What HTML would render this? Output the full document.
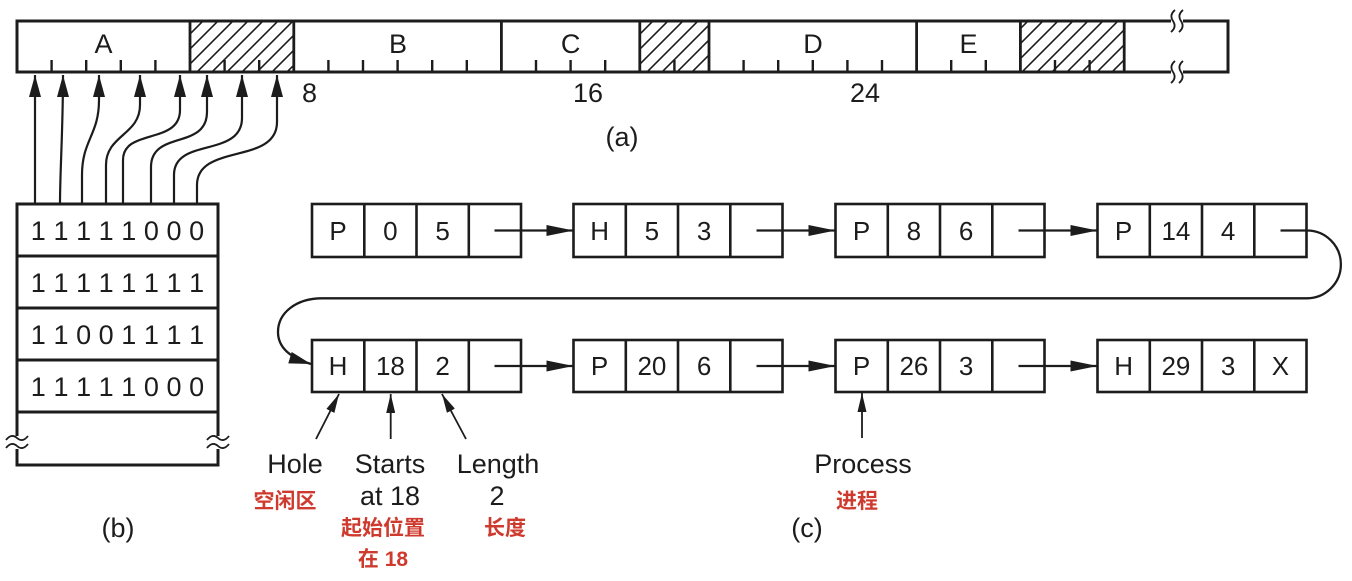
<!DOCTYPE html>
<html>
<head>
<meta charset="utf-8">
<style>
html,body{margin:0;padding:0;background:#fff;}
svg{display:block;}
text{font-family:"Liberation Sans","Noto Sans CJK SC",sans-serif;fill:#1c1c1c;}
.cn{font-family:"Liberation Sans","Noto Sans CJK SC",sans-serif;fill:#cf3a2e;font-weight:bold;font-size:21px;}
</style>
</head>
<body>
<svg width="1352" height="581" viewBox="0 0 1352 581" xmlns="http://www.w3.org/2000/svg">
<defs>
  <pattern id="hatch" patternUnits="userSpaceOnUse" width="15" height="15" x="14" y="0">
    <path d="M0,15 L15,0 M-3,3 L3,-3 M12,18 L18,12" stroke="#1c1c1c" stroke-width="1.6"/>
  </pattern>
  <marker id="ahB" markerWidth="22" markerHeight="12" refX="22" refY="6" orient="auto" markerUnits="userSpaceOnUse">
    <path d="M0,0 L22,6 L0,12 z" fill="#1c1c1c"/>
  </marker>
  <marker id="ahC" markerWidth="27" markerHeight="11" refX="27" refY="5.5" orient="auto" markerUnits="userSpaceOnUse">
    <path d="M0,0 L27,5.5 L0,11 z" fill="#1c1c1c"/>
  </marker>
  <marker id="ahS" markerWidth="19" markerHeight="9" refX="19" refY="4.5" orient="auto" markerUnits="userSpaceOnUse">
    <path d="M0,0 L19,4.5 L0,9 z" fill="#1c1c1c"/>
  </marker>
</defs>

<!-- ============ (a) memory bar ============ -->
<g stroke="#1c1c1c" fill="none">
  <rect x="190" y="21" width="103.8" height="51" fill="url(#hatch)" stroke="none"/>
  <rect x="639.8" y="21" width="69.2" height="51" fill="url(#hatch)" stroke="none"/>
  <rect x="1020.4" y="21" width="103.8" height="51" fill="url(#hatch)" stroke="none"/>
  <rect x="17" y="21" width="1211" height="51" stroke-width="3"/>
  <g stroke-width="2.8">
    <line x1="190" y1="21" x2="190" y2="72"/>
    <line x1="293.8" y1="21" x2="293.8" y2="72"/>
    <line x1="501.4" y1="21" x2="501.4" y2="72"/>
    <line x1="639.8" y1="21" x2="639.8" y2="72"/>
    <line x1="709" y1="21" x2="709" y2="72"/>
    <line x1="916.6" y1="21" x2="916.6" y2="72"/>
    <line x1="1020.4" y1="21" x2="1020.4" y2="72"/>
    <line x1="1124.2" y1="21" x2="1124.2" y2="72"/>
  </g>
  <g stroke-width="2.4">
    <line x1="51.6" y1="60" x2="51.6" y2="72"/>
    <line x1="86.2" y1="60" x2="86.2" y2="72"/>
    <line x1="120.8" y1="60" x2="120.8" y2="72"/>
    <line x1="155.4" y1="60" x2="155.4" y2="72"/>
    <line x1="224.6" y1="60" x2="224.6" y2="72"/>
    <line x1="259.2" y1="60" x2="259.2" y2="72"/>
    <line x1="328.4" y1="60" x2="328.4" y2="72"/>
    <line x1="363" y1="60" x2="363" y2="72"/>
    <line x1="397.6" y1="60" x2="397.6" y2="72"/>
    <line x1="432.2" y1="60" x2="432.2" y2="72"/>
    <line x1="466.8" y1="60" x2="466.8" y2="72"/>
    <line x1="536" y1="60" x2="536" y2="72"/>
    <line x1="570.6" y1="60" x2="570.6" y2="72"/>
    <line x1="605.2" y1="60" x2="605.2" y2="72"/>
    <line x1="674.4" y1="60" x2="674.4" y2="72"/>
    <line x1="743.6" y1="60" x2="743.6" y2="72"/>
    <line x1="778.2" y1="60" x2="778.2" y2="72"/>
    <line x1="812.8" y1="60" x2="812.8" y2="72"/>
    <line x1="847.4" y1="60" x2="847.4" y2="72"/>
    <line x1="882" y1="60" x2="882" y2="72"/>
    <line x1="951.2" y1="60" x2="951.2" y2="72"/>
    <line x1="985.8" y1="60" x2="985.8" y2="72"/>
    <line x1="1055" y1="60" x2="1055" y2="72"/>
    <line x1="1089.6" y1="60" x2="1089.6" y2="72"/>
  </g>
  <!-- break squiggles -->
  <rect x="1171" y="18" width="12" height="6" fill="#fff" stroke="none"/>
  <rect x="1171" y="69" width="12" height="6" fill="#fff" stroke="none"/>
  <g stroke-width="1.8">
    <path d="M1175,10 q-6,5 -2,11 t-2,11"/>
    <path d="M1183,10 q-6,5 -2,11 t-2,11"/>
    <path d="M1175,61 q-6,5 -2,11 t-2,11"/>
    <path d="M1183,61 q-6,5 -2,11 t-2,11"/>
  </g>
</g>
<g font-size="27" text-anchor="middle">
  <text x="103.5" y="53">A</text>
  <text x="398" y="53">B</text>
  <text x="570.6" y="53">C</text>
  <text x="813" y="53">D</text>
  <text x="968.5" y="53">E</text>
</g>
<g font-size="27">
  <text x="302" y="102">8</text>
  <text x="573" y="102">16</text>
  <text x="850" y="102">24</text>
  <text x="622" y="146" text-anchor="middle">(a)</text>
</g>

<!-- ============ bitmap arrows ============ -->
<g stroke="#1c1c1c" stroke-width="2.2" fill="none" marker-end="url(#ahB)">
  <path d="M35,204 L35,75"/>
  <path d="M60,204 C60,170 63,130 63,75"/>
  <path d="M82,204 L82,175 C82,140 99,135 99,100 L99,75"/>
  <path d="M106,204 L106,165 C106,135 140,135 140,105 L140,75"/>
  <path d="M123,204 L123,160 C123,128 180,145 180,110 L180,75"/>
  <path d="M151,204 L151,167 C151,130 207,150 207,112 L207,75"/>
  <path d="M174,204 L174,175 C174,137 242,158 242,118 L242,75"/>
  <path d="M197,204 L197,185 C197,143 277,165 277,122 L277,75"/>
</g>

<!-- ============ (b) bitmap ============ -->
<g stroke="#1c1c1c" fill="none" stroke-width="3">
  <rect x="17" y="204" width="201" height="261" fill="#fff"/>
  <line x1="17" y1="256" x2="218" y2="256"/>
  <line x1="17" y1="308" x2="218" y2="308"/>
  <line x1="17" y1="360" x2="218" y2="360"/>
  <line x1="17" y1="412" x2="218" y2="412"/>
  <rect x="13" y="436" width="8" height="13" fill="#fff" stroke="none"/>
  <rect x="214" y="436" width="8" height="13" fill="#fff" stroke="none"/>
  <g stroke-width="1.8">
    <path d="M6,440 q5.5,-7 11,-2 t11,-2"/>
    <path d="M6,448 q5.5,-7 11,-2 t11,-2"/>
    <path d="M207,440 q5.5,-7 11,-2 t11,-2"/>
    <path d="M207,448 q5.5,-7 11,-2 t11,-2"/>
  </g>
</g>
<g font-size="27" text-anchor="middle">
  <text y="240"><tspan x="38.3">1</tspan><tspan x="61">1</tspan><tspan x="83.6">1</tspan><tspan x="106.2">1</tspan><tspan x="128.8">1</tspan><tspan x="151.4">0</tspan><tspan x="174">0</tspan><tspan x="196.6">0</tspan></text>
  <text y="292"><tspan x="38.3">1</tspan><tspan x="61">1</tspan><tspan x="83.6">1</tspan><tspan x="106.2">1</tspan><tspan x="128.8">1</tspan><tspan x="151.4">1</tspan><tspan x="174">1</tspan><tspan x="196.6">1</tspan></text>
  <text y="344"><tspan x="38.3">1</tspan><tspan x="61">1</tspan><tspan x="83.6">0</tspan><tspan x="106.2">0</tspan><tspan x="128.8">1</tspan><tspan x="151.4">1</tspan><tspan x="174">1</tspan><tspan x="196.6">1</tspan></text>
  <text y="396"><tspan x="38.3">1</tspan><tspan x="61">1</tspan><tspan x="83.6">1</tspan><tspan x="106.2">1</tspan><tspan x="128.8">1</tspan><tspan x="151.4">0</tspan><tspan x="174">0</tspan><tspan x="196.6">0</tspan></text>
  <text x="118" y="537">(b)</text>
</g>

<!-- ============ (c) linked list ============ -->
<g stroke="#1c1c1c" fill="none" stroke-width="2.6">
  <!-- row 1 -->
  <rect x="312" y="204" width="209" height="53"/>
  <line x1="364.3" y1="204" x2="364.3" y2="257"/><line x1="416.5" y1="204" x2="416.5" y2="257"/><line x1="468.8" y1="204" x2="468.8" y2="257"/>
  <rect x="573.5" y="204" width="209" height="53"/>
  <line x1="625.8" y1="204" x2="625.8" y2="257"/><line x1="678" y1="204" x2="678" y2="257"/><line x1="730.3" y1="204" x2="730.3" y2="257"/>
  <rect x="835.5" y="204" width="209" height="53"/>
  <line x1="887.8" y1="204" x2="887.8" y2="257"/><line x1="940" y1="204" x2="940" y2="257"/><line x1="992.3" y1="204" x2="992.3" y2="257"/>
  <rect x="1097.5" y="204" width="209" height="53"/>
  <line x1="1149.8" y1="204" x2="1149.8" y2="257"/><line x1="1202" y1="204" x2="1202" y2="257"/><line x1="1254.3" y1="204" x2="1254.3" y2="257"/>
  <!-- row 2 -->
  <rect x="312" y="340" width="209" height="52"/>
  <line x1="364.3" y1="340" x2="364.3" y2="392"/><line x1="416.5" y1="340" x2="416.5" y2="392"/><line x1="468.8" y1="340" x2="468.8" y2="392"/>
  <rect x="573.5" y="340" width="209" height="52"/>
  <line x1="625.8" y1="340" x2="625.8" y2="392"/><line x1="678" y1="340" x2="678" y2="392"/><line x1="730.3" y1="340" x2="730.3" y2="392"/>
  <rect x="835.5" y="340" width="209" height="52"/>
  <line x1="887.8" y1="340" x2="887.8" y2="392"/><line x1="940" y1="340" x2="940" y2="392"/><line x1="992.3" y1="340" x2="992.3" y2="392"/>
  <rect x="1097.5" y="340" width="209" height="52"/>
  <line x1="1149.8" y1="340" x2="1149.8" y2="392"/><line x1="1202" y1="340" x2="1202" y2="392"/><line x1="1254.3" y1="340" x2="1254.3" y2="392"/>
</g>
<g stroke="#1c1c1c" fill="none" stroke-width="2.3" marker-end="url(#ahC)">
  <path d="M494.5,230.5 L573.5,230.5"/>
  <path d="M756.5,230.5 L835.5,230.5"/>
  <path d="M1018.5,230.5 L1097.5,230.5"/>
  <path d="M494.5,366 L573.5,366"/>
  <path d="M756.5,366 L835.5,366"/>
  <path d="M1018.5,366 L1097.5,366"/>
</g>
<g stroke="#1c1c1c" fill="none" stroke-width="2.3">
  <path d="M1280.5,230.5 L1307,230.5 A33.9,33.9 0 0 1 1307,298.3 L322,298.3 C296,298.3 278,313 278,332 C278,348 291,358 311,364" marker-end="url(#ahB)"/>
</g>
<g font-size="26" text-anchor="middle">
  <text x="338" y="240">P</text><text x="390.4" y="240">0</text><text x="442.6" y="240">5</text>
  <text x="599.6" y="240">H</text><text x="651.9" y="240">5</text><text x="704.1" y="240">3</text>
  <text x="861.6" y="240">P</text><text x="913.9" y="240">8</text><text x="966.1" y="240">6</text>
  <text x="1123.6" y="240">P</text><text x="1175.9" y="240">14</text><text x="1228.1" y="240">4</text>

  <text x="338" y="375">H</text><text x="390.4" y="375">18</text><text x="442.6" y="375">2</text>
  <text x="599.6" y="375">P</text><text x="651.9" y="375">20</text><text x="704.1" y="375">6</text>
  <text x="861.6" y="375">P</text><text x="913.9" y="375">26</text><text x="966.1" y="375">3</text>
  <text x="1123.6" y="375">H</text><text x="1175.9" y="375">29</text><text x="1228.1" y="375">3</text><text x="1280.4" y="375">X</text>
</g>

<!-- label arrows -->
<g stroke="#1c1c1c" fill="none" stroke-width="1.8" marker-end="url(#ahS)">
  <path d="M316,439 L339,394"/>
  <path d="M390.7,439 L390.7,394"/>
  <path d="M466,439 L442,394"/>
  <path d="M862,438 L862,393"/>
</g>
<g font-size="27" text-anchor="middle">
  <text x="295" y="473">Hole</text>
  <text x="390" y="473">Starts</text>
  <text x="390" y="505">at 18</text>
  <text x="498" y="473">Length</text>
  <text x="497" y="505">2</text>
  <text x="863" y="473">Process</text>
  <text x="807" y="537">(c)</text>
</g>
<g class="cn" text-anchor="middle">
  <text class="cn" x="285" y="508">空闲区</text>
  <text class="cn" x="383" y="535">起始位置</text>
  <text class="cn" x="383" y="566">在 18</text>
  <text class="cn" x="505" y="535">长度</text>
  <text class="cn" x="857" y="508">进程</text>
</g>
</svg>
</body>
</html>
